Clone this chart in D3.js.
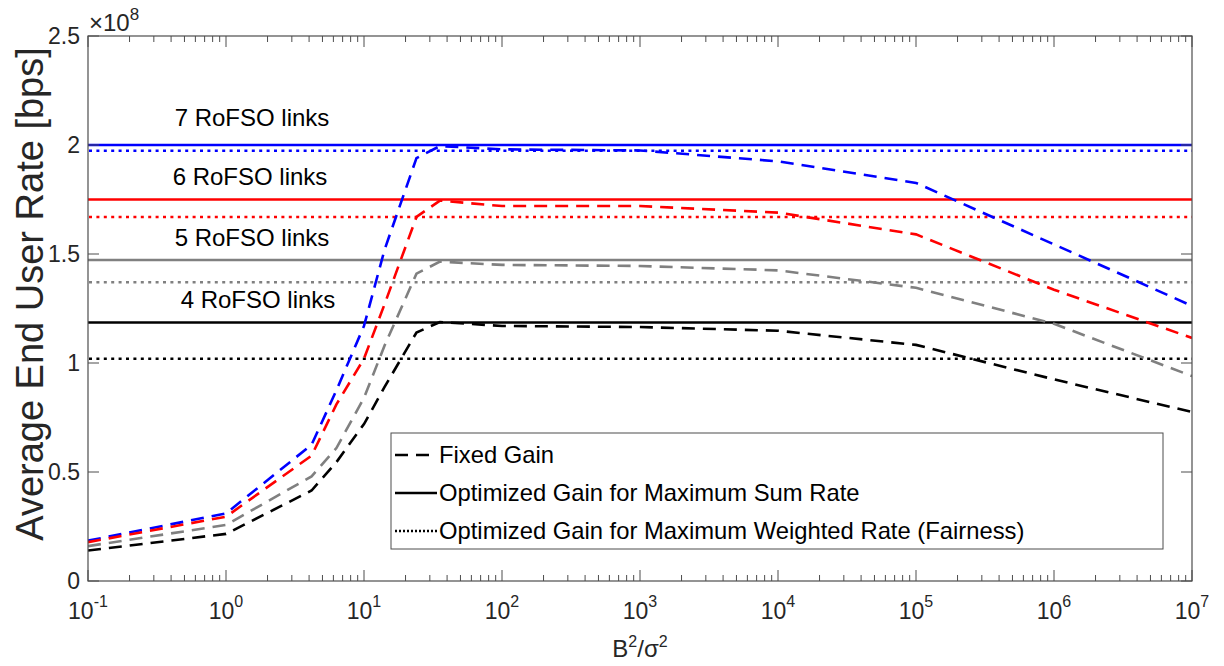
<!DOCTYPE html>
<html>
<head>
<meta charset="utf-8">
<script src="https://cdn.jsdelivr.net/npm/d3@7"></script>
<style>
  body { margin: 0; background: #fff; }
  text { font-family: Arial, "Liberation Sans", sans-serif; fill: #262626; }
</style>
</head>
<body>
<div class="chart"></div>
<script>
// B^2/sigma^2 sample points
var snr = [0.1, 1, 4.17, 6.31, 10, 14.1, 24, 35.5, 100, 1e3, 1e4, 1e5, 1e6, 1e7];

// fixed gain curves (x1e8 bps)
var fixed7 = [0.185, 0.31, 0.625, 0.875, 1.17, 1.52, 1.94, 1.995, 1.98, 1.975, 1.925, 1.826, 1.544, 1.262];
var fixed6 = [0.178, 0.295, 0.575, 0.81, 1.02, 1.27, 1.67, 1.745, 1.72, 1.72, 1.69, 1.59, 1.336, 1.115];
var fixed5 = [0.16, 0.257, 0.48, 0.61, 0.84, 1.08, 1.41, 1.465, 1.45, 1.445, 1.425, 1.345, 1.18, 0.94];
var fixed4 = [0.14, 0.216, 0.415, 0.545, 0.72, 0.89, 1.14, 1.188, 1.17, 1.165, 1.148, 1.083, 0.925, 0.775];

// optimized gain levels (x1e8 bps)
var linkNames = ["7 RoFSO links", "6 RoFSO links", "5 RoFSO links", "4 RoFSO links"];
var linkColors = ["#0000ff", "#ff0000", "#808080", "#000000"];
var sumRate = [2.0, 1.75, 1.472, 1.186];
var weightedRate = [1.974, 1.67, 1.37, 1.02];
var labelLevel = [2.087, 1.817, 1.537, 1.252];

var legendNames = ["Fixed Gain", "Optimized Gain for Maximum Sum Rate", "Optimized Gain for Maximum Weighted Rate (Fairness)"];
var yTicks = [0, 0.5, 1, 1.5, 2, 2.5];
var xTicks = [0.1, 1, 10, 100, 1e3, 1e4, 1e5, 1e6, 1e7];

var width = 1224, height = 666;
var margin = {top: 36, right: 32, bottom: 85, left: 88};
var x0 = margin.left, x1 = width - margin.right;
var y0 = height - margin.bottom, y1 = margin.top;

var x = d3.scaleLog().domain([0.1, 1e7]).range([x0, x1]);
var y = d3.scaleLinear().domain([0, 2.5]).range([y0, y1]);

var svg = d3.select(".chart").append("svg")
    .attr("width", width)
    .attr("height", height);

svg.append("defs").append("clipPath").attr("id", "plot-clip")
    .append("rect")
        .attr("x", x0).attr("y", y1)
        .attr("width", x1 - x0).attr("height", y0 - y1);

var plot = svg.append("g").attr("clip-path", "url(#plot-clip)");

// horizontal levels
linkNames.forEach(function(name, i) {
    plot.append("line")
        .attr("x1", x0).attr("x2", x1)
        .attr("y1", y(sumRate[i])).attr("y2", y(sumRate[i]))
        .style("stroke", linkColors[i])
        .style("stroke-width", 2.5);
    plot.append("line")
        .attr("x1", x0 + 1).attr("x2", x1)
        .attr("y1", y(weightedRate[i])).attr("y2", y(weightedRate[i]))
        .style("stroke", linkColors[i])
        .style("stroke-width", 2.5)
        .style("stroke-dasharray", "3,4.4");
});

var line = d3.line()
    .x(function(d) { return x(d[0]); })
    .y(function(d) { return y(d[1]); });

[fixed7, fixed6, fixed5, fixed4].forEach(function(vals, i) {
    plot.append("path")
        .datum(d3.zip(snr, vals))
        .attr("d", line)
        .style("fill", "none")
        .style("stroke", linkColors[i])
        .style("stroke-width", 2.6)
        .style("stroke-dasharray", "13,8");
});

// link labels
var labelX = [252, 250, 252, 258];
linkNames.forEach(function(name, i) {
    svg.append("text")
        .attr("x", labelX[i])
        .attr("y", y(labelLevel[i]))
        .attr("text-anchor", "middle")
        .style("font-size", "24px")
        .style("fill", "#000")
        .text(name);
});

// box + ticks
var axisColor = "#4d4d4d";
var frame = svg.append("g");
frame.append("rect")
    .attr("x", x0).attr("y", y1)
    .attr("width", x1 - x0).attr("height", y0 - y1)
    .style("fill", "none")
    .style("stroke", axisColor)
    .style("stroke-width", 1.2);

var allX = [];
for (var e = -1; e < 7; e++) {
    for (var m = 1; m < 10; m++) allX.push(m * Math.pow(10, e));
}
allX.push(1e7);
allX.forEach(function(v) {
    var major = Math.abs(Math.log10(v) - Math.round(Math.log10(v))) < 1e-9;
    var len = major ? 11 : 6;
    frame.append("line")
        .attr("x1", x(v)).attr("x2", x(v))
        .attr("y1", y0).attr("y2", y0 - len)
        .style("stroke", axisColor).style("stroke-width", 1);
    frame.append("line")
        .attr("x1", x(v)).attr("x2", x(v))
        .attr("y1", y1).attr("y2", y1 + len)
        .style("stroke", axisColor).style("stroke-width", 1);
});

yTicks.forEach(function(v) {
    frame.append("line")
        .attr("x1", x0).attr("x2", x0 + 11)
        .attr("y1", y(v)).attr("y2", y(v))
        .style("stroke", axisColor).style("stroke-width", 1);
    frame.append("line")
        .attr("x1", x1).attr("x2", x1 - 11)
        .attr("y1", y(v)).attr("y2", y(v))
        .style("stroke", axisColor).style("stroke-width", 1);
    svg.append("text")
        .attr("x", x0 - 8)
        .attr("y", y(v) + 8)
        .attr("text-anchor", "end")
        .style("font-size", "23px")
        .text(d3.format("~g")(v));
});

xTicks.forEach(function(v) {
    var t = svg.append("text")
        .attr("x", x(v))
        .attr("y", 619)
        .attr("text-anchor", "middle")
        .style("font-size", "23px");
    t.append("tspan").text("10");
    t.append("tspan")
        .attr("dy", -12)
        .style("font-size", "16px")
        .text(Math.round(Math.log10(v)));
});

// exponent label
var ex = svg.append("text").attr("x", 89).attr("y", 31).style("font-size", "24px");
ex.append("tspan").style("font-size", "24px").text("\u00d710");
ex.append("tspan").attr("dy", -11).style("font-size", "17px").text("8");

// axis titles
var xl = svg.append("text")
    .attr("x", (x0 + x1) / 2)
    .attr("y", 657)
    .attr("text-anchor", "middle")
    .style("font-size", "24px");
xl.append("tspan").text("B");
xl.append("tspan").attr("dy", -10).style("font-size", "16px").text("2");
xl.append("tspan").attr("dy", 10).text("/\u03c3");
xl.append("tspan").attr("dy", -10).style("font-size", "16px").text("2");

svg.append("text")
    .attr("transform", "translate(43,294) rotate(-90)")
    .attr("text-anchor", "middle")
    .style("font-size", "38px")
    .text("Average End User Rate [bps]");

// legend
var legend = svg.append("g").attr("transform", "translate(391,433)");
legend.append("rect")
    .attr("width", 772).attr("height", 116)
    .style("fill", "#fff")
    .style("stroke", axisColor)
    .style("stroke-width", 1);
var dashStyles = ["13,8", null, "2,2"];
legendNames.forEach(function(name, i) {
    var ly = 22 + i * 38;
    legend.append("line")
        .attr("x1", 4).attr("x2", 46)
        .attr("y1", ly).attr("y2", ly)
        .style("stroke", "#000")
        .style("stroke-width", 2.5)
        .style("stroke-dasharray", dashStyles[i]);
    legend.append("text")
        .attr("x", 48)
        .attr("y", ly + 8)
        .style("font-size", "23.8px")
        .style("fill", "#000")
        .text(name);
});
</script>
</body>
</html>
